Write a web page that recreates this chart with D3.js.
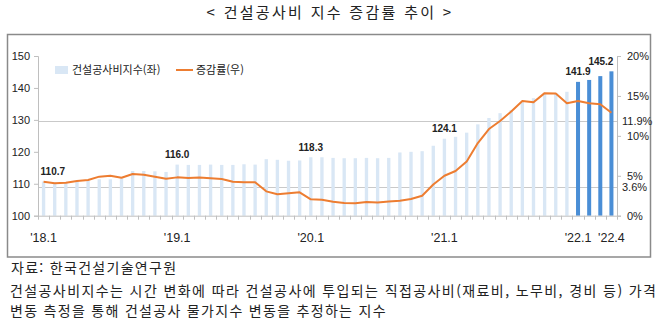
<!DOCTYPE html>
<html lang="ko">
<head>
<meta charset="utf-8">
<script src="https://cdn.jsdelivr.net/npm/d3@7"></script>
<style>
  html, body { margin: 0; padding: 0; background: #fff; }
  svg { display: block; }
  text { font-family: "Malgun Gothic", "Noto Sans CJK KR", "Noto Sans", sans-serif; fill: #222; }
  .num { font-family: "Liberation Sans", Arial, sans-serif; }
</style>
</head>
<body>
<svg id="chart" width="664" height="324"></svg>
<script>
// Monthly periods, Jan 2018 – Apr 2022
const months = [];
for (let y = 18; y <= 22; y++) {
  for (let m = 1; m <= 12; m++) {
    if (y === 22 && m > 4) break;
    months.push("'" + y + "." + m);
  }
}

// Construction cost index (left axis)
const indexValues = [
  110.7, 110.4, 110.5, 110.7, 111.0, 111.4, 111.4, 111.7, 114.0, 114.0, 113.9, 113.7,
  116.0, 115.9, 115.9, 116.0, 115.9, 115.9, 116.1, 116.0, 117.7, 117.5, 117.2, 117.3,
  118.3, 118.3, 118.1, 118.0, 118.0, 118.1, 118.0, 118.1, 119.8, 120.0, 120.2, 121.9,
  124.1, 124.7, 126.0, 128.6, 130.6, 132.1, 133.1, 135.5, 136.8, 138.3, 138.4, 138.8,
  141.9, 142.5, 143.7, 145.2
];

// Year-on-year change, % (right axis)
const changeRates = [
  4.26, 4.06, 4.13, 4.35, 4.47, 4.89, 5.00, 4.76, 5.22, 5.14, 4.89, 4.63,
  4.80, 4.72, 4.78, 4.68, 4.60, 4.26, 4.18, 4.18, 3.05, 2.68, 2.80, 2.93,
  2.05, 2.00, 1.75, 1.58, 1.55, 1.72, 1.65, 1.78, 1.88, 2.09, 2.50, 3.90,
  5.00, 5.60, 6.80, 9.10, 10.85, 11.86, 13.05, 14.36, 14.20, 15.35, 15.30, 14.07,
  14.36, 14.07, 13.95, 12.90
];

// Periods whose index value is printed above the bar
const labelledMonths = ["'18.1", "'19.1", "'20.1", "'21.1", "'22.1", "'22.4"];
// Periods drawn in the darker colour
const highlightMonths = ["'22.1", "'22.2", "'22.3", "'22.4"];

const xTickLabels = ["'18.1", "'19.1", "'20.1", "'21.1", "'22.1", "'22.4"];
const leftTicks = [100, 110, 120, 130, 140, 150];
const rightTicks = [0, 5, 10, 15, 20];
const refRates = [11.9, 3.6];

const data = months.map((m, i) => ({ month: m, index: indexValues[i], rate: changeRates[i] }));

const svg = d3.select("#chart");

const plot = { left: 38, right: 617, top: 56, bottom: 215.7 };

const x = d3.scaleBand().domain(months).range([plot.left, plot.right]);
const yL = d3.scaleLinear().domain([100, 150]).range([plot.bottom, plot.top]);
const yR = d3.scaleLinear().domain([0, 20]).range([plot.bottom, plot.top]);

// Title
svg.append("text")
  .attr("x", 330).attr("y", 18)
  .attr("text-anchor", "middle")
  .attr("font-size", 15)
  .attr("letter-spacing", 2.3)
  .text("< 건설공사비 지수 증감률 추이 >");

// Chart frame
svg.append("rect")
  .attr("x", 7.5).attr("y", 34.5)
  .attr("width", 643).attr("height", 222.5)
  .attr("fill", "none")
  .attr("stroke", "#8a8a8a")
  .attr("stroke-width", 1.5);

// Reference lines on the right axis
svg.append("g").selectAll("line")
  .data(refRates).join("line")
  .attr("x1", plot.left).attr("x2", plot.right)
  .attr("y1", d => Math.round(yR(d)) + 0.5).attr("y2", d => Math.round(yR(d)) + 0.5)
  .attr("stroke", "#c9c9c9").attr("stroke-width", 1);

// Bars
const barW = x.bandwidth() * 0.3;
const hiW = x.bandwidth() * 0.36;
svg.append("g").selectAll("rect")
  .data(data).join("rect")
  .attr("x", d => {
    const w = highlightMonths.includes(d.month) ? hiW : barW;
    return x(d.month) + x.bandwidth() / 2 - w / 2;
  })
  .attr("width", d => highlightMonths.includes(d.month) ? hiW : barW)
  .attr("y", d => yL(d.index))
  .attr("height", d => yL(100) - yL(d.index))
  .attr("fill", d => highlightMonths.includes(d.month) ? "#4a8ed6" : "#d9e7f5");

// Axes
const axisColor = "#bfbfbf";

const leftAxis = svg.append("g")
  .attr("transform", `translate(${plot.left},0)`)
  .call(d3.axisLeft(yL).tickValues(leftTicks).tickSize(4).tickPadding(4));
leftAxis.selectAll("text").attr("font-size", 11).attr("fill", "#333").attr("class", "num");

const rightAxis = svg.append("g")
  .attr("transform", `translate(${plot.right},0)`)
  .call(d3.axisRight(yR).tickValues(rightTicks).tickSize(4).tickPadding(6)
    .tickFormat(d => d + "%"));
rightAxis.selectAll("text").attr("font-size", 11).attr("fill", "#333").attr("class", "num");

const bottomAxis = svg.append("g")
  .attr("transform", `translate(0,${plot.bottom})`)
  .call(d3.axisBottom(x).tickValues([]).tickSizeOuter(0));
// band-boundary tick marks
bottomAxis.selectAll(".bnd")
  .data(months.concat(["end"])).join("line")
  .attr("class", "bnd")
  .attr("x1", (d, i) => Math.round(plot.left + i * x.step()) + 0.5)
  .attr("x2", (d, i) => Math.round(plot.left + i * x.step()) + 0.5)
  .attr("y1", 0).attr("y2", 4)
  .attr("stroke", axisColor);

[leftAxis, rightAxis, bottomAxis].forEach(g => {
  g.selectAll("path.domain").attr("stroke", axisColor);
  g.selectAll(".tick line").attr("stroke", axisColor);
});

// Extra labels for the reference lines
svg.append("g").selectAll("text")
  .data(refRates).join("text")
  .attr("class", "num")
  .attr("x", plot.right + 5)
  .attr("y", d => yR(d) + 4)
  .attr("font-size", 11).attr("fill", "#333")
  .text(d => d + "%");

// X labels
svg.append("g").selectAll("text")
  .data(xTickLabels).join("text")
  .attr("class", "num")
  .attr("x", d => x(d) + x.bandwidth() / 2)
  .attr("y", 242)
  .attr("text-anchor", "middle")
  .attr("font-size", 12.5).attr("fill", "#333")
  .text(d => d);

// Change-rate line
const line = d3.line()
  .x(d => x(d.month) + x.bandwidth() / 2)
  .y(d => yR(d.rate));
svg.append("path")
  .datum(data)
  .attr("d", line)
  .attr("fill", "none")
  .attr("stroke", "#ed7d31")
  .attr("stroke-width", 2)
  .attr("stroke-linejoin", "round");

// Value labels above selected bars
const lastMonth = months[months.length - 1];
svg.append("g").selectAll("text")
  .data(data.filter(d => labelledMonths.includes(d.month))).join("text")
  .attr("class", "num")
  .attr("x", d => {
    const cx = x(d.month) + x.bandwidth() / 2;
    if (d.month === months[0]) return cx - 3;
    if (d.month === lastMonth) return cx + 2;
    return cx;
  })
  .attr("y", d => yL(d.index) - 6.5)
  .attr("text-anchor", d => d.month === months[0] ? "start" : (d.month === lastMonth ? "end" : "middle"))
  .attr("font-size", 10)
  .attr("font-weight", "bold")
  .attr("fill", "#111")
  .text(d => d.index.toFixed(1));

// Legend
const legend = svg.append("g");
legend.append("rect")
  .attr("x", 55).attr("y", 66).attr("width", 13).attr("height", 8)
  .attr("fill", "#d9e7f5");
legend.append("text")
  .attr("x", 72).attr("y", 74)
  .attr("font-size", 11)
  .text("건설공사비지수(좌)");
legend.append("line")
  .attr("x1", 176).attr("x2", 193).attr("y1", 70).attr("y2", 70)
  .attr("stroke", "#ed7d31").attr("stroke-width", 2);
legend.append("text")
  .attr("x", 196).attr("y", 74)
  .attr("font-size", 11)
  .text("증감률(우)");

// Source and note
svg.append("text")
  .attr("x", 11).attr("y", 273)
  .attr("font-size", 14)
  .attr("letter-spacing", 1.3)
  .text("자료: 한국건설기술연구원");
svg.append("text")
  .attr("x", 10).attr("y", 296)
  .attr("font-size", 14)
  .attr("textLength", 646)
  .attr("lengthAdjust", "spacing")
  .text("건설공사비지수는 시간 변화에 따라 건설공사에 투입되는 직접공사비(재료비, 노무비, 경비 등) 가격");
svg.append("text")
  .attr("x", 10).attr("y", 316)
  .attr("font-size", 14)
  .attr("letter-spacing", 1.3)
  .text("변동 측정을 통해 건설공사 물가지수 변동을 추정하는 지수");
</script>
</body>
</html>
